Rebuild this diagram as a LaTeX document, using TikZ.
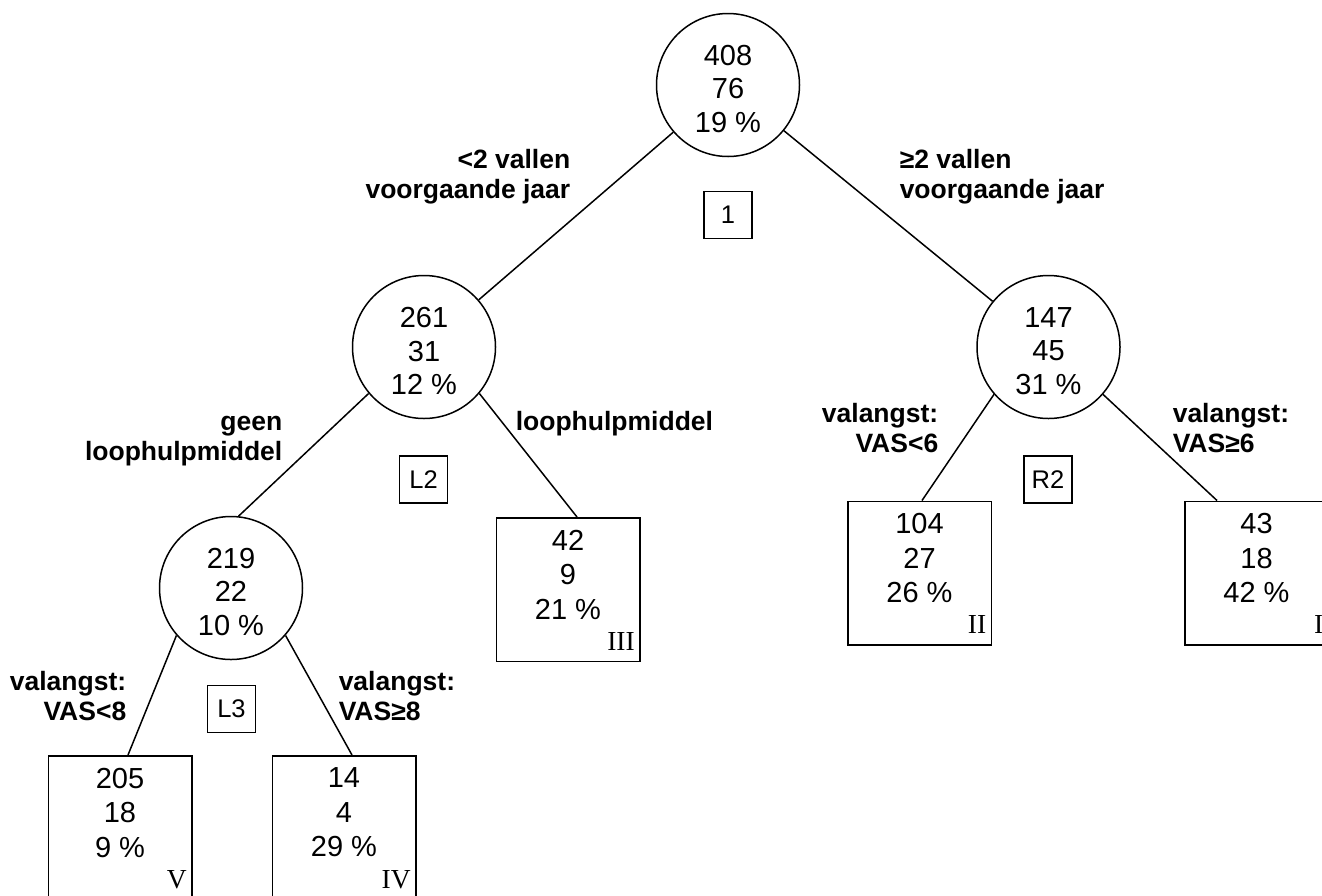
\documentclass[tikz,border=0pt]{standalone}
\usepackage{fontspec}
\setmainfont{Liberation Sans}
\newfontfamily\romanfont{Liberation Serif}
\begin{document}
\begin{tikzpicture}[x=1pt,y=-1pt,
  line width=1.5pt,
  split/.style={circle,draw,minimum size=143pt,inner sep=0pt},
  leaf/.style={rectangle,draw,minimum width=143.5pt,minimum height=143.5pt,inner sep=0pt},
  tag/.style={rectangle,draw,minimum width=48pt,minimum height=47pt,inner sep=0pt,
    font=\fontsize{25.5}{30}\selectfont},
  counts/.style={align=center,inner sep=0pt,font=\fontsize{29}{33.5}\selectfont},
  leafcounts/.style={align=center,inner sep=0pt,anchor=north,font=\fontsize{29}{34.5}\selectfont},
  group/.style={inner sep=0pt,anchor=base east,font=\romanfont\fontsize{27.5}{30}\selectfont},
  rule/.style={inner sep=0pt,font=\bfseries\fontsize{26.5}{30.5}\selectfont}
]
\useasboundingbox (0,0) rectangle (1322,895);

% split nodes
\node[split] (root) at (728,85) {};
\node[split] (n261) at (424,347) {};
\node[split] (n147) at (1048.5,347) {};
\node[split] (n219) at (231,588) {};
\node[counts] (root-t) at ([yshift=-4pt]root.center) {408\\76\\19 \%};
\node[counts] (n261-t) at ([yshift=-4pt]n261.center) {261\\31\\12 \%};
\node[counts] (n147-t) at ([yshift=-4pt]n147.center) {147\\45\\31 \%};
\node[counts] (n219-t) at ([yshift=-4pt]n219.center) {219\\22\\10 \%};

% terminal groups
\node[leaf] (b1) at (1256.5,573) {};
\node[leaf] (b2) at (919.5,573) {};
\node[leaf] (b3) at (568,589.5) {};
\node[leaf] (b4) at (344,827.5) {};
\node[leaf] (b5) at (120,827.5) {};
\node[leafcounts] (b1-t) at ([yshift=-12pt]b1.north) {43\\18\\42 \%};
\node[leafcounts] (b2-t) at ([yshift=-12pt]b2.north) {104\\27\\26 \%};
\node[leafcounts] (b3-t) at ([yshift=-12pt]b3.north) {42\\9\\21 \%};
\node[leafcounts] (b4-t) at ([yshift=-12pt]b4.north) {14\\4\\29 \%};
\node[leafcounts] (b5-t) at ([yshift=-12pt]b5.north) {205\\18\\9 \%};
\node[group] (b1-g) at ([xshift=-5pt,yshift=12pt]b1.south east) {I};
\node[group] (b2-g) at ([xshift=-5pt,yshift=12pt]b2.south east) {II};
\node[group] (b3-g) at ([xshift=-5pt,yshift=12pt]b3.south east) {III};
\node[group] (b4-g) at ([xshift=-5pt,yshift=12pt]b4.south east) {IV};
\node[group] (b5-g) at ([xshift=-5pt,yshift=12pt]b5.south east) {V};

% split tags
\node[tag] (t1) at (728,215) {1};
\node[tag] (tL2) at (423.5,479.5) {L2};
\node[tag] (tR2) at (1048,479.5) {R2};
\node[tag] (tL3) at (231.5,709) {L3};

% branches
\draw (root) -- (n261);
\draw (root) -- (n147);
\draw (n261.220) -- (n219.84);
\draw (n261.-40) -- ([xshift=9pt]b3.north);
\draw (n147.221) -- ([xshift=2.5pt]b2.north);
\draw (n147.-41) -- ([xshift=-39.5pt]b1.north);
\draw (n219.221) -- ([xshift=8pt]b5.north);
\draw (n219.-41) -- ([xshift=8pt]b4.north);

% split rules
\node[rule,align=right,anchor=north east] (r1l) at (571,148.5) {<2 vallen\\voorgaande jaar};
\node[rule,align=left,anchor=north west] (r1r) at (899,148.5) {≥2 vallen\\voorgaande jaar};
\node[rule,align=right,anchor=north east] (rL2l) at (283,415) {geen\\loophulpmiddel};
\node[rule,anchor=base west] (rL2r) at (515,430) {loophulpmiddel};
\node[rule,align=right,anchor=north east] (rR2l) at (939,402.5) {valangst:\\VAS<6};
\node[rule,align=left,anchor=north west] (rR2r) at (1172,402.5) {valangst:\\VAS≥6};
\node[rule,align=right,anchor=north east] (rL3l) at (127,670.5) {valangst:\\VAS<8};
\node[rule,align=left,anchor=north west] (rL3r) at (338,670.5) {valangst:\\VAS≥8};
\end{tikzpicture}
\end{document}
